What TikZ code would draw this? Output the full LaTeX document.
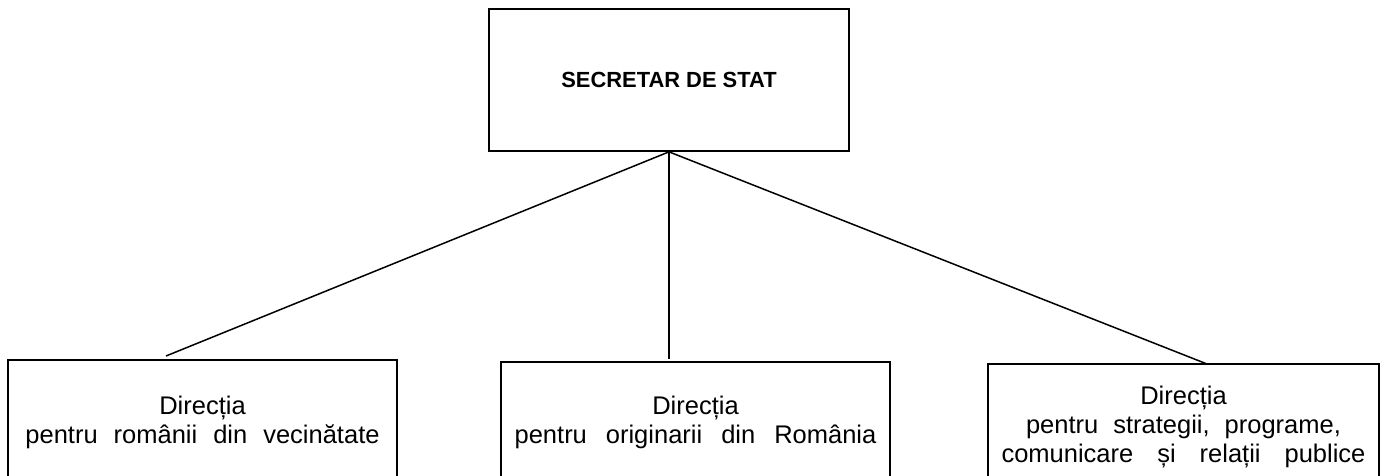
\documentclass[tikz,border=0pt]{standalone}
\usepackage{fontspec}
\setmainfont{Liberation Sans}
\newcommand\wordgap[1]{\spaceskip=#1\relax}
\begin{document}
\begin{tikzpicture}[x=1pt,y=-1pt,
  box/.style={draw, line width=1.7pt, inner sep=0pt, align=center,
    font={\fontsize{25.5}{29}\selectfont\wordgap{#1}}},
  box/.default=19pt,
  link/.style={line width=1.5pt}]
\useasboundingbox (0,0) rectangle (1385,476);
\node[box, minimum width=360pt, minimum height=142pt,
  font=\bfseries\fontsize{21.9}{25}\selectfont] (top) at (669,80) {SECRETAR DE STAT};
\node[box=16pt, minimum width=389pt, minimum height=124pt] (left) at (202.5,422)
  {Direcția\\pentru românii din vecinătate};
\node[box=19pt, minimum width=389pt, minimum height=120pt] (mid) at (695.5,422)
  {Direcția\\pentru originarii din România};
\node[box=24pt, minimum width=391pt, minimum height=125pt] (right) at (1183.5,426.5)
  {Direcția\\\wordgap{15pt}pentru strategii, programe,\\\wordgap{24pt}comunicare și relații publice};
\coordinate (lend) at (166,356);
\coordinate (mend) at (669,359);
\coordinate (rend) at (1207,364);
\draw[link] (top.south) -- (lend);
\draw[link] (top.south) -- (mend);
\draw[link] (top.south) -- (rend);
\end{tikzpicture}
\end{document}
